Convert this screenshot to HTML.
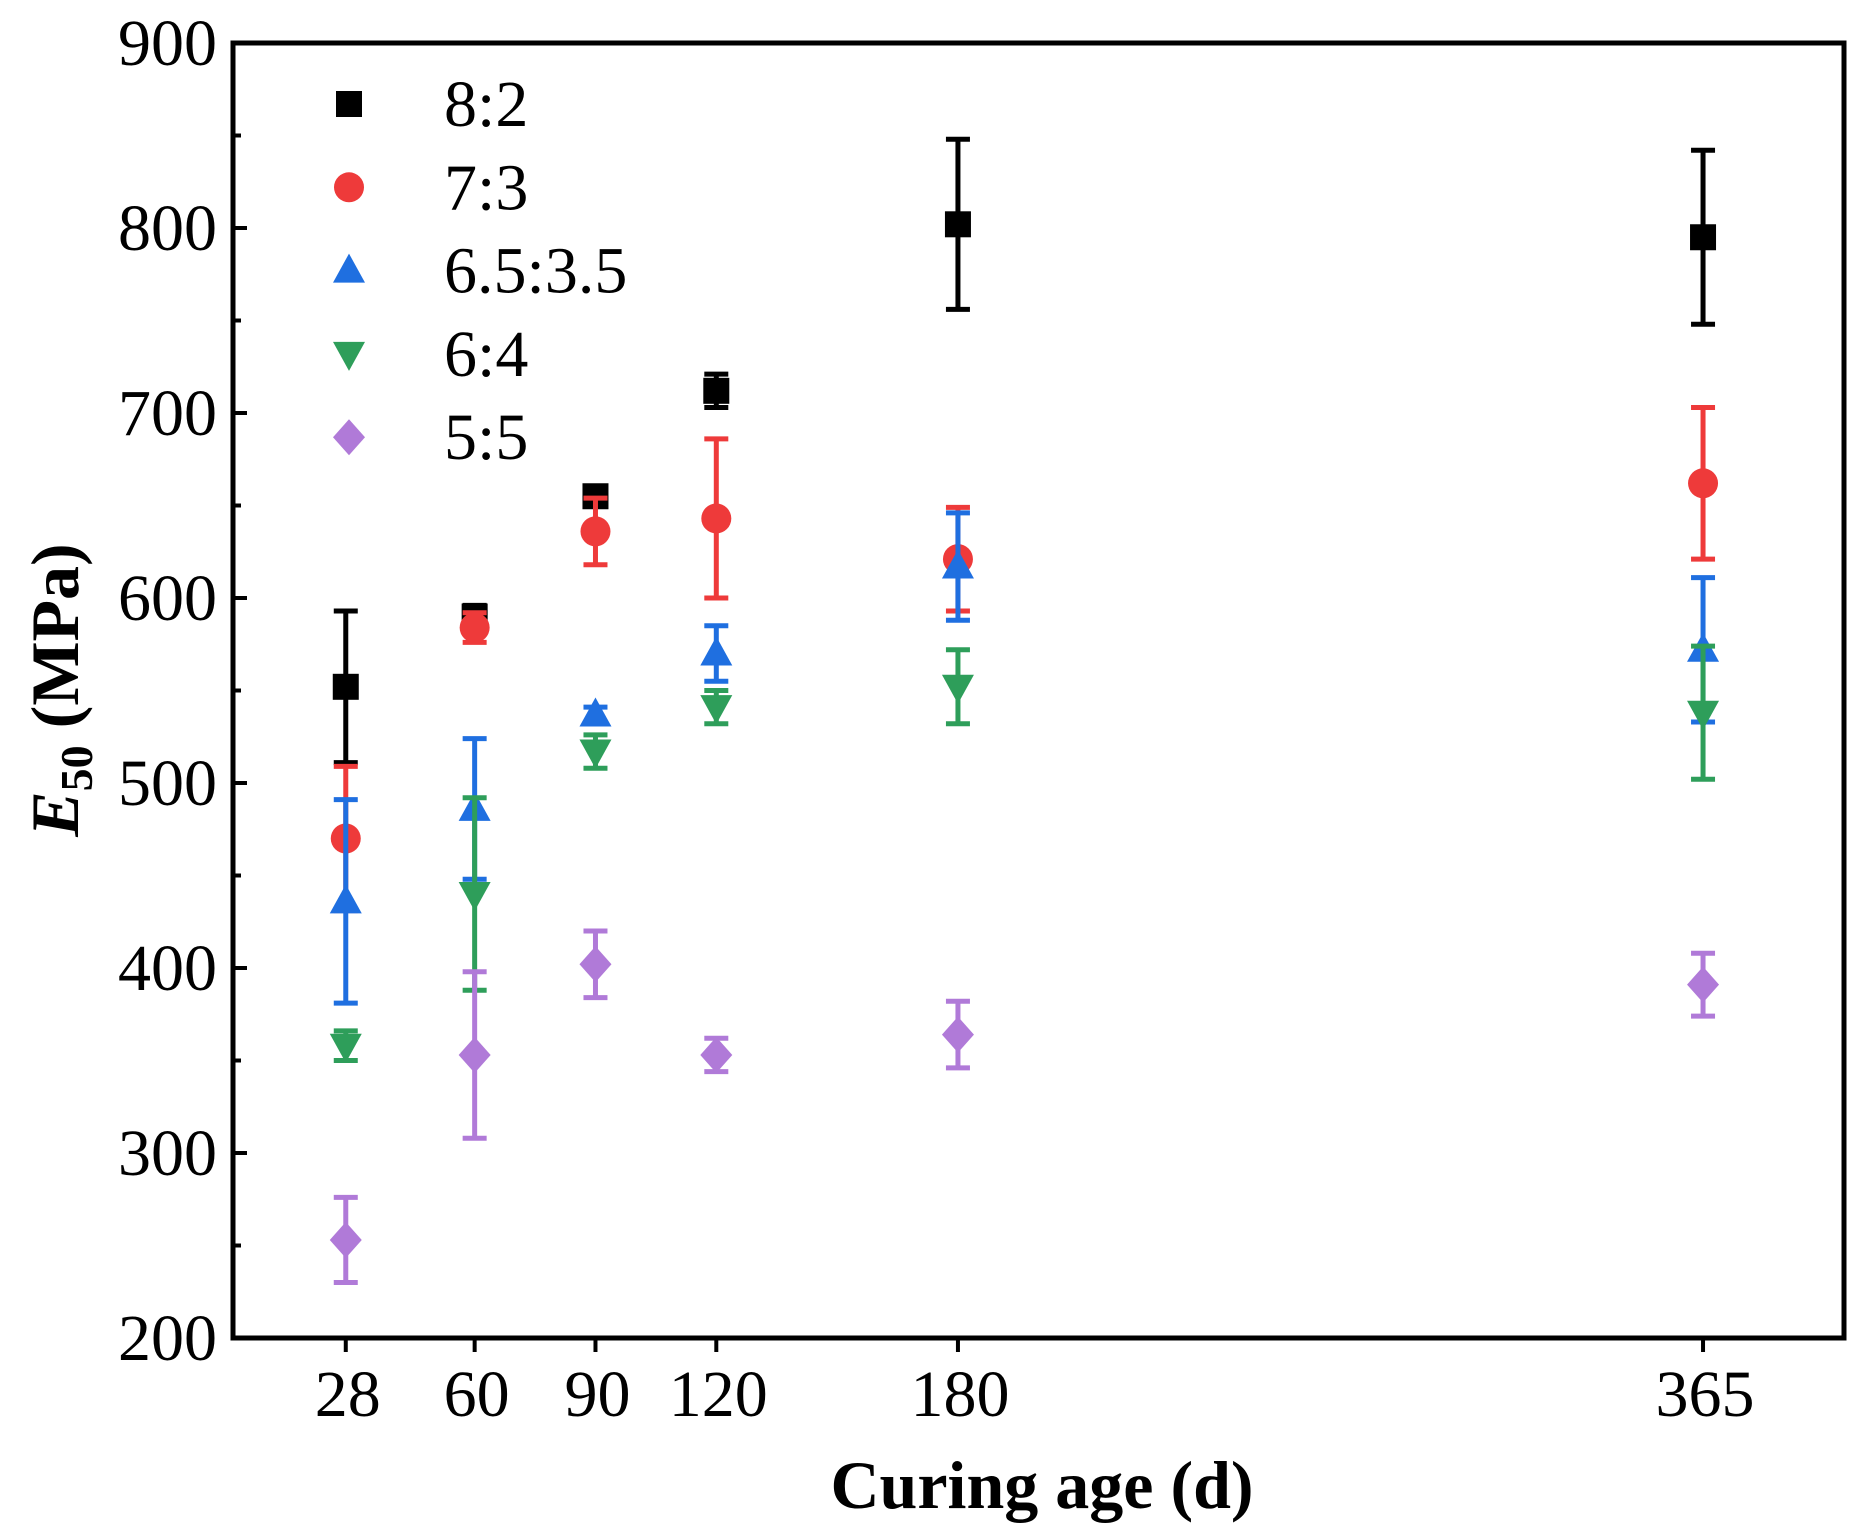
<!DOCTYPE html>
<html><head><meta charset="utf-8"><style>
html,body{margin:0;padding:0;background:#fff}
svg{display:block}
text{font-family:"Liberation Serif",serif;fill:#000}
</style></head><body>
<svg id="chart" width="1867" height="1537" viewBox="0 0 1867 1537" xmlns="http://www.w3.org/2000/svg">
<g id="g"></g>
</svg>
<script>
const ages = [28, 60, 90, 120, 180, 365];
const seriesNames = ["8:2", "7:3", "6.5:3.5", "6:4", "5:5"];
const s82 = [552, 590, 655, 712, 802, 795];
const e82 = [41, 6, 4, 9, 46, 47];
const s73 = [470, 584, 636, 643, 621, 662];
const e73 = [39, 8, 18, 43, 28, 41];
const s6535 = [436, 486, 537, 570, 617, 572];
const e6535 = [55, 38, 4, 15, 29, 39];
const s64 = [358, 440, 517, 541, 552, 538];
const e64 = [8, 52, 9, 9, 20, 36];
const s55 = [253, 353, 402, 353, 364, 391];
const e55 = [23, 45, 18, 9, 18, 17];
const yTicks = [200, 300, 400, 500, 600, 700, 800, 900];

const L=233,R=1844,T=43,B=1338;
const xs=v=>L+(v-0)/(400-0)*(R-L);
const ys=v=>B-(v-200)/(900-200)*(B-T);
const NS="http://www.w3.org/2000/svg";
const g=document.getElementById('g');
function mk(tag,attrs,parent){const e=document.createElementNS(NS,tag);for(const k in attrs)e.setAttribute(k,attrs[k]);(parent||g).appendChild(e);return e;}

const colors=["#000000","#ee3a3a","#1f6fe0","#2e9e5a","#b07ad8"];
const vals=[s82,s73,s6535,s64,s55];
const errs=[e82,e73,e6535,e64,e55];
const shapes=["square","circle","up","down","diamond"];

function marker(shape,x,y,c,parent){
  let e;
  if(shape==="square") e=mk('rect',{x:x-13,y:y-13,width:26,height:26,fill:c},parent);
  else if(shape==="circle") e=mk('circle',{cx:x,cy:y,r:15,fill:c},parent);
  else if(shape==="up") e=mk('polygon',{points:`${x},${y-17} ${x+16},${y+12} ${x-16},${y+12}`,fill:c},parent);
  else if(shape==="down") e=mk('polygon',{points:`${x},${y+17} ${x+16},${y-12} ${x-16},${y-12}`,fill:c},parent);
  else e=mk('polygon',{points:`${x},${y-18} ${x+16},${y} ${x},${y+18} ${x-16},${y}`,fill:c},parent);
  return e;
}

const frame=mk('rect',{x:L,y:T,width:R-L,height:B-T,fill:'none',stroke:'#000','stroke-width':5});



yTicks.forEach(v=>{
  const y=ys(v);
  const t=mk('line',{x1:L,x2:L+14,y1:y,y2:y,stroke:'#000','stroke-width':4});
  
  
  const lb=mk('text',{x:L-16,y:y+22,'text-anchor':'end','font-size':66});
  lb.textContent=v;
  
  
  if(v<900){const m=mk('line',{x1:L,x2:L+8,y1:ys(v+50),y2:ys(v+50),stroke:'#000','stroke-width':4});
  
  }
});
ages.forEach(a=>{
  const x=xs(a);
  const t=mk('line',{x1:x,x2:x,y1:B,y2:B+14,stroke:'#000','stroke-width':4});
  
  
  const lb=mk('text',{x:x+2,y:B+78,'text-anchor':'middle','font-size':66});
  lb.textContent=a;
  
  
});

vals.forEach((arr,si)=>{
  const sg=mk('g',{});
  
  
  arr.forEach((v,i)=>{
    const x=xs(ages[i]),e=errs[si][i],c=colors[si];
    const y1=ys(v+e),y2=ys(v-e);
    const eb=mk('path',{d:`M${x},${y1}V${y2}M${x-12},${y1}H${x+12}M${x-12},${y2}H${x+12}`,stroke:c,'stroke-width':5,fill:'none'},sg);
    
    
    const m=marker(shapes[si],x,ys(v),c,sg);
    
    
  });
});

const lg=mk('g',{});


seriesNames.forEach((n,i)=>{
  const y=104+i*83.3;
  const m=marker(shapes[i],349,y,colors[i],lg);
  
  
  const t=mk('text',{x:444,y:y+22,'font-size':66},lg);
  t.textContent=n;
  
  
});

const xt=mk('text',{x:1042,y:1508,'text-anchor':'middle','font-size':68,'font-weight':'bold'});
xt.textContent='Curing age (d)';


const yt=mk('text',{transform:'translate(78,690) rotate(-90)','text-anchor':'middle','font-size':68,'font-weight':'bold'});
yt.innerHTML='<tspan font-style="italic">E</tspan><tspan font-size="46" dy="14">50</tspan><tspan dy="-14"> (MPa)</tspan>';


</script>
</body></html>
